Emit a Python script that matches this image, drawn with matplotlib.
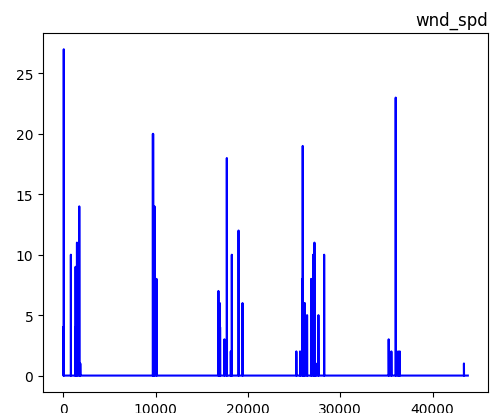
import numpy as np
import matplotlib
matplotlib.use("Agg")
import matplotlib.pyplot as plt

# Hourly wind speed record: calm (0) except for a handful of gust events
n_hours = 43824
spike_hours = [0, 60, 830, 1300, 1340, 1490, 1740, 1850,
               9710, 9740, 9890, 10110,
               16810, 16960, 16990, 17460, 17720, 18150, 18260, 18990, 19420,
               25250, 25650, 25900, 25940, 26100, 26160, 26410, 26850,
               27070, 27210, 27350, 27640, 28260,
               35250, 35540, 36010, 36270, 36450,
               43400]
spike_speeds = [4, 27, 10, 4, 9, 11, 14, 1,
                20, 20, 14, 8,
                7, 6, 4, 3, 18, 2, 10, 12, 6,
                2, 2, 8, 19, 6, 6, 5, 8,
                10, 11, 1, 5, 10,
                3, 2, 23, 2, 2,
                1]

wnd_spd = np.zeros(n_hours)
wnd_spd[spike_hours] = spike_speeds

fig = plt.figure(figsize=(4.94, 4.14), dpi=100)
ax = fig.add_axes([0.087, 0.051, 0.901, 0.867])
ax.plot(np.arange(n_hours), wnd_spd, color="blue", linewidth=1.5)
ax.set_title("wnd_spd", loc="right")
ax.set_yticks([0, 5, 10, 15, 20, 25])
ax.set_xticks([0, 10000, 20000, 30000, 40000])
fig.savefig("out.png", dpi=100)
